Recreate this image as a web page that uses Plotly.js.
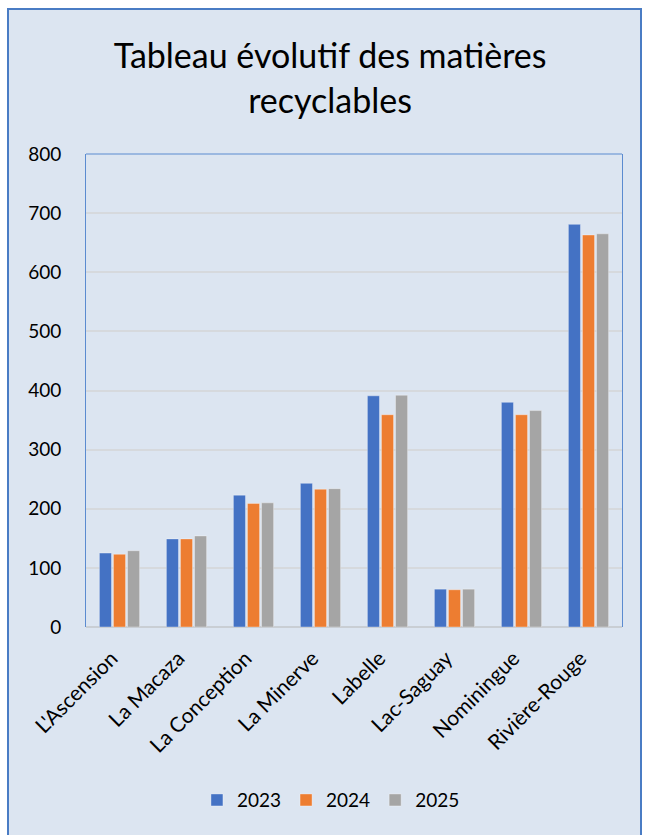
<!DOCTYPE html>
<html>
<head>
<meta charset="utf-8">
<script src="https://cdn.plot.ly/plotly-3.0.1.min.js"></script>
<style>
  html, body { margin: 0; padding: 0; background: #ffffff; width: 646px; height: 835px; overflow: hidden; }
  #frame { position: absolute; left: 7px; top: 8px; width: 635px; height: 840px; background: #DCE5F1; border: 2px solid #4A7CC4; box-sizing: border-box; }
  #chart { position: absolute; left: 0; top: 0; width: 646px; height: 835px; }
</style>
</head>
<body>
<div id="frame"></div>
<div id="chart"></div>
<script>
const categories = ["L'Ascension", "La Macaza", "La Conception", "La Minerve", "Labelle", "Lac-Saguay", "Nominingue", "Rivière-Rouge"];
const values2023 = [125, 149, 223, 243, 391, 64, 380, 681];
const values2024 = [123, 149, 209, 233, 359, 63, 359, 663];
const values2025 = [129, 154, 210, 234, 392, 64, 366, 665];
const seriesNames = ["2023", "2024", "2025"];
const yTicks = [0, 100, 200, 300, 400, 500, 600, 700, 800];

const colors = ["#4472C4", "#ED7D31", "#A5A5A5"];
const allValues = [values2023, values2024, values2025];

const traces = allValues.map((vals, i) => ({
  type: 'bar',
  name: seriesNames[i],
  x: categories,
  y: vals,
  marker: { color: colors[i], line: { color: 'rgba(255,255,255,0.35)', width: 1 } },
  hoverinfo: 'x+y+name'
}));

const FONT = 'Lato, "Open Sans", sans-serif';

const layout = {
  width: 646,
  height: 835,
  paper_bgcolor: 'rgba(0,0,0,0)',
  plot_bgcolor: 'rgba(0,0,0,0)',
  margin: { l: 86, r: 24, t: 154, b: 208 },
  font: { family: FONT, color: '#000000' },
  title: {
    text: 'Tableau évolutif des matières<br>recyclables',
    font: { size: 34, family: FONT, color: '#000000' },
    x: 0.511, xanchor: 'center', xref: 'container',
    y: 0.918, yanchor: 'middle', yref: 'container'
  },
  barmode: 'group',
  bargap: 0.37,
  bargroupgap: 0.14,
  xaxis: {
    type: 'category',
    tickangle: -45,
    tickfont: { size: 21, color: '#000000', family: FONT },
    showline: false,
    showgrid: false,
    ticks: '',
    ticklabelshift: -8,
    ticklabelstandoff: 14,
    automargin: false
  },
  yaxis: {
    range: [0, 800],
    tickvals: yTicks,
    ticktext: yTicks.map(String),
    tickfont: { size: 19, color: '#000000', family: FONT },
    showgrid: true,
    gridcolor: '#D6D9DD',
    gridwidth: 2,
    zeroline: true,
    zerolinecolor: '#C9CED4',
    zerolinewidth: 2,
    showline: true,
    mirror: true,
    linecolor: '#5B8BD0',
    linewidth: 1,
    ticks: '',
    ticklabelstandoff: 20,
    automargin: false
  },
  shapes: [
    { type: 'line', xref: 'paper', yref: 'paper', x0: 0, x1: 1, y0: 1, y1: 1, line: { color: '#5B8BD0', width: 1 } }
  ],
  legend: {
    orientation: 'h',
    x: 0.457, xanchor: 'center',
    y: -0.366, yanchor: 'middle',
    font: { size: 19, color: '#000000', family: FONT },
    itemwidth: 30,
    traceorder: 'normal'
  },
  showlegend: true
};

Plotly.newPlot('chart', traces, layout, { displayModeBar: false, staticPlot: true });
</script>
</body>
</html>
